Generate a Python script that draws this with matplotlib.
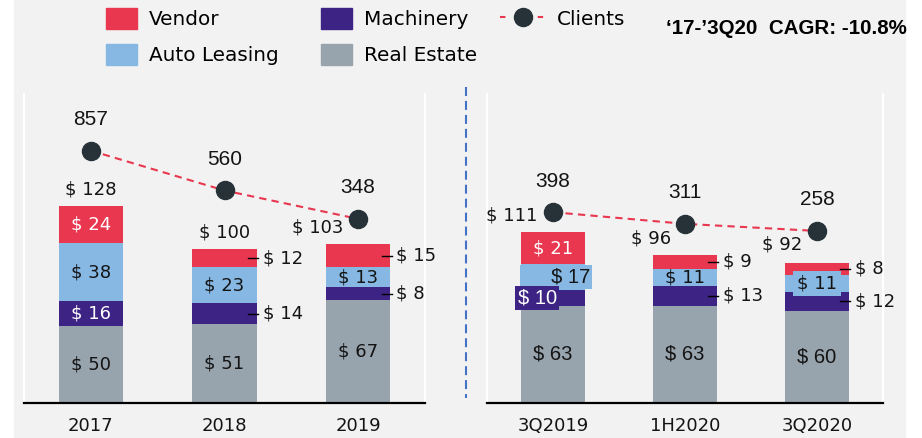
import matplotlib.pyplot as plt
import numpy as np
from matplotlib.lines import Line2D
from matplotlib.patches import Patch, Rectangle

# data (USD, clients in thousands)
years = ['2017', '2018', '2019']
real_estate_y = [50, 51, 67]
machinery_y = [16, 14, 8]
auto_leasing_y = [38, 23, 13]
vendor_y = [24, 12, 15]
total_y = [128, 100, 103]
clients_y = [857, 560, 348]

periods = ['3Q2019', '1H2020', '3Q2020']
real_estate_q = [63, 63, 60]
machinery_q = [10, 13, 12]
auto_leasing_q = [17, 11, 11]
vendor_q = [21, 9, 8]
total_q = [111, 96, 92]
clients_q = [398, 311, 258]

cagr_text = '\u201817-\u20193Q20  CAGR: -10.8%'

RED = '#e8374f'
BLUE = '#86b8e3'
PURPLE = '#3d2484'
GRAY = '#97a3ad'
BG = '#f2f2f2'
DOT = '#263238'
TXT = '#141414'
DJ = 'DejaVu Sans'
AR = 'Liberation Sans'

fig = plt.figure(figsize=(9.22, 4.38), dpi=100, facecolor='white')
fig.patches.append(Rectangle((14 / 922, 1 / 438), 891 / 922, 437 / 438,
                             transform=fig.transFigure, color=BG, zorder=-10))

ax_l = fig.add_axes([24 / 922, 35 / 438, 401 / 922, 309 / 438])
ax_r = fig.add_axes([487 / 922, 35 / 438, 396 / 922, 309 / 438])


def panel(ax, cats, segs, totals, clients, outside, white, arial, special, total_dx):
    x = np.arange(len(cats))
    bottom = np.zeros(len(cats))
    for name, vals, color in segs:
        vals = np.array(vals, dtype=float)
        ax.bar(x, vals, 0.48, bottom=bottom, color=color, zorder=2)
        for i, v in enumerate(vals):
            c = bottom[i] + v / 2
            lab = '$ %d' % v
            if (name, i) in outside:
                ax.plot([i + 0.177, i + 0.252], [c, c], color='black', lw=1, zorder=3)
                ax.text(i + 0.285, c, lab, ha='left', va='center', fontsize=13,
                        family=DJ, color=TXT)
                continue
            col = 'white' if (name, i) in white else TXT
            fam, fs = (AR, 14.5) if (name, i) in arial else (DJ, 13)
            kw = dict(ha='center', va='center', fontsize=fs, family=fam, color=col,
                      zorder=4)
            dx = 0
            if (name, i) in special:
                sp = special[(name, i)]
                dx = sp['dx']
                kw['ha'] = sp.get('ha', 'center')
                kw['zorder'] = sp['z']
                kw['bbox'] = dict(boxstyle='square,pad=%s' % sp['pad'], fc=sp['fc'], ec='none')
                lab = sp.get('prefix', '') + lab
            ax.annotate(lab, (i, c), xytext=(dx, 0), textcoords='offset points', **kw)
        bottom += vals

    for i, t in enumerate(totals):
        dx = total_dx[i]
        ax.annotate('$ %d' % t, (i, t), xytext=(dx, 12), textcoords='offset points',
                    ha='center' if dx == 0 else 'right', va='center', fontsize=13,
                    family=DJ, color=TXT)

    ax.set_xlim(-0.5, len(cats) - 0.5)
    ax.set_ylim(0, 200.5)
    ax.set_facecolor(BG)
    ax.set_yticks([])
    ax.set_xticks(x)
    ax.set_xticklabels(cats, fontsize=13, family=DJ, color=TXT)
    ax.tick_params(axis='x', length=0, pad=10)
    ax.spines['top'].set_visible(False)
    for s in ('left', 'right'):
        ax.spines[s].set_color('white')
        ax.spines[s].set_linewidth(1.5)
    ax.spines['bottom'].set_color('black')
    ax.spines['bottom'].set_linewidth(1.6)

    ax2 = ax.twinx()
    ax2.plot(x, clients, color=RED, lw=1.5, ls=(0, (3.5, 2.5)), zorder=1)
    ax2.plot(x, clients, 'o', ms=13, color=DOT, zorder=2)
    for i, v in enumerate(clients):
        ax2.annotate(str(v), (i, v), xytext=(0, 22.3), textcoords='offset points',
                     ha='center', va='center', fontsize=15, family=AR, color=TXT)
    ax2.set_ylim(-1026, 1280)
    ax2.set_yticks([])
    for s in ax2.spines.values():
        s.set_visible(False)


segs_l = [('Real', real_estate_y, GRAY), ('Mach', machinery_y, PURPLE),
          ('Auto', auto_leasing_y, BLUE), ('Vend', vendor_y, RED)]
segs_r = [('Real', real_estate_q, GRAY), ('Mach', machinery_q, PURPLE),
          ('Auto', auto_leasing_q, BLUE), ('Vend', vendor_q, RED)]

panel(ax_l, years, segs_l, total_y, clients_y,
      outside={('Vend', 1), ('Mach', 1), ('Vend', 2), ('Mach', 2)},
      white={('Vend', 0), ('Mach', 0)},
      arial=set(), special={}, total_dx=[0, 0, -10.6])

panel(ax_r, periods, segs_r, total_q, clients_q,
      outside={('Vend', 1), ('Mach', 1), ('Vend', 2), ('Mach', 2)},
      white={('Vend', 0), ('Mach', 0)},
      arial={('Real', 0), ('Real', 1), ('Real', 2), ('Auto', 0), ('Mach', 0)},
      special={('Auto', 0): dict(dx=26.6, ha='right', prefix='     ', pad=0.12, fc=BLUE, z=4),
               ('Mach', 0): dict(dx=-11.2, pad=0.12, fc=PURPLE, z=5),
               ('Auto', 2): dict(dx=0, pad=0.2, fc=BLUE, z=4)},
      total_dx=[-11.5, -10, -10.4])

# dashed divider between annual and quarterly panels
fig.add_artist(Line2D([465.7 / 922] * 2, [1 - 87 / 438, 1 - 398 / 438],
                      transform=fig.transFigure, color='#4472c4', lw=1.5,
                      ls=(0, (4.3, 2.4))))

# legend, three columns placed separately
leg_kw = dict(loc='upper left', frameon=False, handlelength=1.55,
              handleheight=1.25, handletextpad=0.6, labelspacing=0.72, borderpad=0,
              borderaxespad=0, prop={'family': DJ, 'size': 14.4})
fig.legend(handles=[Patch(color=RED, label='Vendor'), Patch(color=BLUE, label='Auto Leasing')],
           bbox_to_anchor=(106 / 922, 1 - 8 / 438), **leg_kw)
fig.legend(handles=[Patch(color=PURPLE, label='Machinery'), Patch(color=GRAY, label='Real Estate')],
           bbox_to_anchor=(321 / 922, 1 - 8 / 438), **leg_kw)
leg_kw['handlelength'] = 2.25
fig.legend(handles=[Line2D([], [], color=RED, lw=1.5, ls=(0, (2.6, 15.5)), marker='o',
                           ms=13, mfc=DOT, mec=DOT, label='Clients')],
           bbox_to_anchor=(500 / 922, 1 - 8 / 438), **leg_kw)

fig.text(907 / 922, 1 - 29 / 438, cagr_text, ha='right', va='center', fontsize=14.8,
         family=AR, weight='bold', color='black')

fig.savefig('out.png', dpi=100)
